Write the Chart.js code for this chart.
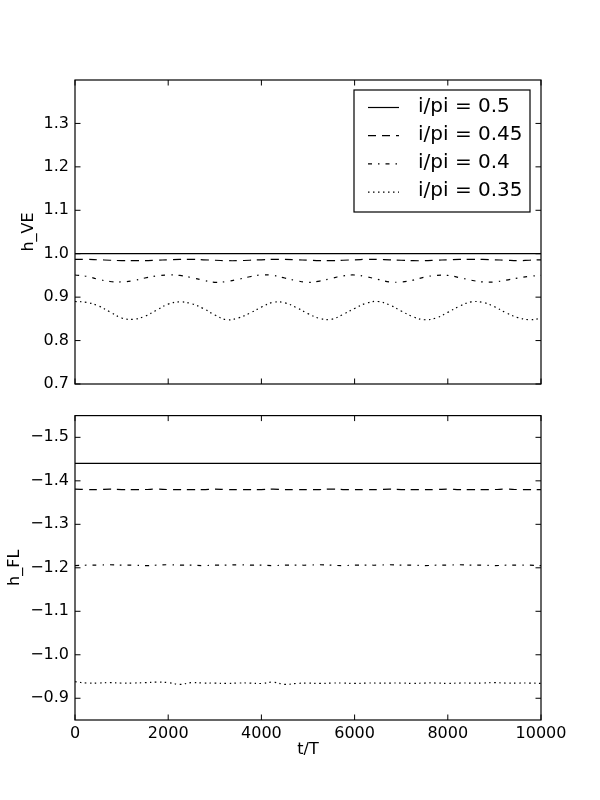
<!DOCTYPE html>
<html>
<head>
<meta charset="utf-8">
<script src="https://cdn.jsdelivr.net/npm/chart.js@4.4.0/dist/chart.umd.min.js"></script>
<style>
  body { margin: 0; background: #fff; }
  canvas { position: absolute; left: 0; }
  #topChart { top: 0; }
  #bottomChart { top: 400px; }
</style>
</head>
<body>
<canvas id="topChart" width="600" height="400"></canvas>
<canvas id="bottomChart" width="600" height="400"></canvas>
<script>
// t/T samples
var steps = [0, 250, 500, 750, 1000, 1250, 1500, 1750, 2000, 2250, 2500, 2750, 3000, 3250, 3500, 3750, 4000,
  4250, 4500, 4750, 5000, 5250, 5500, 5750, 6000, 6250, 6500, 6750, 7000, 7250, 7500, 7750, 8000,
  8250, 8500, 8750, 9000, 9250, 9500, 9750, 10000];

var seriesNames = ["i/pi = 0.5", "i/pi = 0.45", "i/pi = 0.4", "i/pi = 0.35"];

// top panel: h_VE
var hVE_050 = [1.0, 1.0, 1.0, 1.0, 1.0, 1.0, 1.0, 1.0, 1.0, 1.0, 1.0, 1.0, 1.0, 1.0, 1.0, 1.0, 1.0,
  1.0, 1.0, 1.0, 1.0, 1.0, 1.0, 1.0, 1.0, 1.0, 1.0, 1.0, 1.0, 1.0, 1.0, 1.0, 1.0,
  1.0, 1.0, 1.0, 1.0, 1.0, 1.0, 1.0, 1.0];
var hVE_045 = [0.987, 0.987, 0.986, 0.985, 0.984, 0.984, 0.984, 0.985, 0.986, 0.987, 0.987, 0.986, 0.985, 0.984, 0.984, 0.985, 0.986,
  0.987, 0.987, 0.986, 0.985, 0.984, 0.984, 0.985, 0.986, 0.987, 0.987, 0.986, 0.985, 0.984, 0.984, 0.985, 0.986,
  0.987, 0.987, 0.987, 0.986, 0.985, 0.984, 0.985, 0.986];
var hVE_040 = [0.951, 0.948, 0.941, 0.936, 0.935, 0.938, 0.944, 0.949, 0.951, 0.950, 0.945, 0.939, 0.934, 0.936, 0.941, 0.947, 0.951,
  0.950, 0.944, 0.938, 0.934, 0.937, 0.943, 0.949, 0.951, 0.947, 0.941, 0.935, 0.935, 0.939, 0.946, 0.950, 0.950,
  0.945, 0.939, 0.935, 0.935, 0.939, 0.944, 0.948, 0.950];
var hVE_035 = [0.890, 0.888, 0.880, 0.866, 0.852, 0.849, 0.856, 0.870, 0.884, 0.889, 0.885, 0.874, 0.859, 0.848, 0.852, 0.863, 0.877,
  0.888, 0.887, 0.876, 0.862, 0.851, 0.849, 0.860, 0.874, 0.886, 0.890, 0.882, 0.868, 0.855, 0.848, 0.852, 0.865,
  0.879, 0.889, 0.888, 0.878, 0.864, 0.853, 0.848, 0.851];

// bottom panel: h_FL
var hFL_050 = [-1.44, -1.44, -1.44, -1.44, -1.44, -1.44, -1.44, -1.44, -1.44, -1.44, -1.44, -1.44, -1.44, -1.44, -1.44, -1.44, -1.44,
  -1.44, -1.44, -1.44, -1.44, -1.44, -1.44, -1.44, -1.44, -1.44, -1.44, -1.44, -1.44, -1.44, -1.44, -1.44, -1.44,
  -1.44, -1.44, -1.44, -1.44, -1.44, -1.44, -1.44, -1.44];
var hFL_045 = [-1.381, -1.380, -1.380, -1.381, -1.380, -1.380, -1.380, -1.381, -1.380, -1.380, -1.380, -1.380, -1.381, -1.380, -1.380, -1.380, -1.380,
  -1.381, -1.380, -1.380, -1.380, -1.380, -1.381, -1.380, -1.380, -1.380, -1.380, -1.381, -1.380, -1.380, -1.380, -1.380, -1.381,
  -1.380, -1.380, -1.380, -1.380, -1.381, -1.380, -1.380, -1.380];
var hFL_040 = [-1.205, -1.206, -1.206, -1.207, -1.206, -1.206, -1.205, -1.206, -1.207, -1.206, -1.206, -1.205, -1.206, -1.206, -1.207, -1.206, -1.206,
  -1.205, -1.206, -1.206, -1.206, -1.207, -1.206, -1.205, -1.206, -1.206, -1.206, -1.207, -1.206, -1.206, -1.205, -1.206, -1.206,
  -1.207, -1.206, -1.206, -1.205, -1.206, -1.206, -1.206, -1.205];
var hFL_035 = [-0.938, -0.935, -0.935, -0.936, -0.935, -0.935, -0.936, -0.937, -0.936, -0.932, -0.936, -0.935, -0.935, -0.934, -0.935, -0.935, -0.934,
  -0.937, -0.932, -0.934, -0.935, -0.934, -0.935, -0.935, -0.934, -0.935, -0.935, -0.935, -0.935, -0.934, -0.935, -0.935, -0.934,
  -0.935, -0.935, -0.935, -0.936, -0.935, -0.935, -0.935, -0.934];

var xTicks = [0, 2000, 4000, 6000, 8000, 10000];
var veTicks = [0.7, 0.8, 0.9, 1.0, 1.1, 1.2, 1.3];
var flTicks = [-1.5, -1.4, -1.3, -1.2, -1.1, -1.0, -0.9];

Chart.defaults.font.family = "DejaVu Sans";
Chart.defaults.font.size = 16;
Chart.defaults.color = "#000";

var dashes = [[], [8, 6], [4, 6, 1.5, 6], [1.5, 3.5]];

function toPoints(vals) {
  return steps.map(function(t, i) { return { x: t, y: vals[i] }; });
}

function makeDatasets(list) {
  return list.map(function(vals, i) {
    return {
      label: seriesNames[i],
      data: toPoints(vals),
      borderColor: "#000",
      borderWidth: 1.2,
      borderDash: dashes[i],
      pointRadius: 0,
      tension: 0.4,
      fill: false
    };
  });
}

function fmt(v) {
  return v < 0 ? "\u2212" + (-v).toFixed(1) : v.toFixed(1);
}

// box round the plot + inward ticks on all four sides
var framePlugin = {
  id: "frame",
  afterDraw: function(chart) {
    var ctx = chart.ctx, a = chart.chartArea;
    var xs = chart.scales.x, ys = chart.scales.y;
    var len = 5.5;
    ctx.save();
    ctx.strokeStyle = "#000";
    ctx.lineWidth = 1.2;
    ctx.strokeRect(a.left, a.top, a.right - a.left, a.bottom - a.top);
    ctx.lineWidth = 1;
    ctx.beginPath();
    xTicks.forEach(function(v) {
      var px = xs.getPixelForValue(v);
      ctx.moveTo(px, a.bottom); ctx.lineTo(px, a.bottom - len);
      ctx.moveTo(px, a.top); ctx.lineTo(px, a.top + len);
    });
    ys.ticks.forEach(function(t) {
      var py = ys.getPixelForValue(t.value);
      ctx.moveTo(a.left, py); ctx.lineTo(a.left + len, py);
      ctx.moveTo(a.right, py); ctx.lineTo(a.right - len, py);
    });
    ctx.stroke();
    ctx.restore();
  }
};

// legend box in the top panel
var legendPlugin = {
  id: "boxLegend",
  afterDraw: function(chart) {
    var ctx = chart.ctx;
    var rows = [107.5, 135.7, 163.9, 192.1];
    ctx.save();
    ctx.fillStyle = "#fff";
    ctx.fillRect(354, 90, 176, 122);
    ctx.strokeStyle = "#000";
    ctx.lineWidth = 1.2;
    ctx.strokeRect(354, 90, 176, 122);
    chart.data.datasets.forEach(function(ds, i) {
      ctx.lineWidth = ds.borderWidth;
      ctx.setLineDash(ds.borderDash);
      ctx.beginPath();
      ctx.moveTo(368, rows[i]);
      ctx.lineTo(399, rows[i]);
      ctx.stroke();
      ctx.setLineDash([]);
      ctx.fillStyle = "#000";
      ctx.font = "20px 'DejaVu Sans'";
      ctx.textBaseline = "middle";
      ctx.textAlign = "left";
      ctx.fillText(ds.label, 418, rows[i] - 1);
    });
    ctx.restore();
  }
};

function yAxis(min, max, reverse, tickList, title, titlePad) {
  return {
    type: "linear",
    min: min,
    max: max,
    reverse: reverse,
    afterFit: function(s) { s.width = 75; },
    afterBuildTicks: function(s) { s.ticks = tickList.map(function(v) { return { value: v }; }); },
    ticks: { padding: 6, callback: function(v) { return fmt(v); } },
    grid: { display: false, drawTicks: false },
    border: { display: false },
    title: { display: true, text: title, font: { size: 16 }, padding: { top: titlePad, bottom: 0 } }
  };
}

new Chart(document.getElementById("topChart"), {
  type: "line",
  data: { datasets: makeDatasets([hVE_050, hVE_045, hVE_040, hVE_035]) },
  options: {
    responsive: false,
    animation: false,
    layout: { padding: { top: 80, right: 59, bottom: 16, left: 0 } },
    plugins: { legend: { display: false }, tooltip: { enabled: false } },
    scales: {
      x: {
        type: "linear", min: 0, max: 10000,
        afterFit: function(s) { s.height = 0; },
        ticks: { display: false },
        grid: { display: false, drawTicks: false },
        border: { display: false }
      },
      y: yAxis(0.7, 1.4, false, veTicks, "h_VE", 19)
    }
  },
  plugins: [framePlugin, legendPlugin]
});

new Chart(document.getElementById("bottomChart"), {
  type: "line",
  data: { datasets: makeDatasets([hFL_050, hFL_045, hFL_040, hFL_035]) },
  options: {
    responsive: false,
    animation: false,
    layout: { padding: { top: 15, right: 59, bottom: 0, left: 0 } },
    plugins: { legend: { display: false }, tooltip: { enabled: false } },
    scales: {
      x: {
        type: "linear", min: 0, max: 10000,
        afterFit: function(s) { s.height = 80; },
        afterBuildTicks: function(s) { s.ticks = xTicks.map(function(v) { return { value: v }; }); },
        ticks: { padding: 4, maxRotation: 0, callback: function(v) { return String(v); } },
        grid: { display: false, drawTicks: false },
        border: { display: false },
        title: { display: true, text: "t/T", font: { size: 16 }, padding: { top: 0, bottom: 41 } }
      },
      y: yAxis(-1.55, -0.85, true, flTicks, "h_FL", 5)
    }
  },
  plugins: [framePlugin]
});
</script>
</body>
</html>
